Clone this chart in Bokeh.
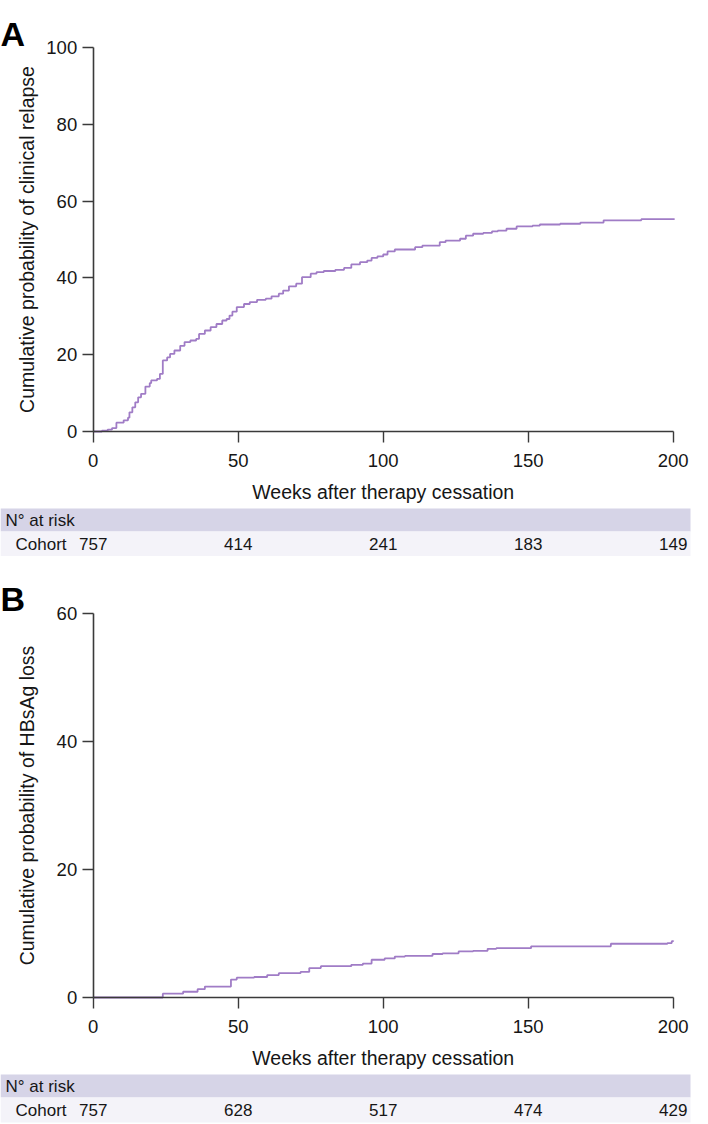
import math
from bokeh.plotting import figure
from bokeh.models import Range1d, FixedTicker, LinearAxis
from bokeh.layouts import column
from bokeh.embed import file_html
from bokeh.resources import INLINE
from bokeh.core.properties import value

# ---------------- data ----------------
week_ticks = [0, 50, 100, 150, 200]

relapse_weeks = [0, 3, 5, 6.5, 8, 10.5, 12, 12.5, 13.5, 14.5, 15.5, 16.5, 18, 19.5, 20,
                 22, 23, 24, 25.5, 26.5, 28, 30, 31.5, 33.5, 35.5, 36.5, 38.5, 40.5, 42.5,
                 44.5, 46, 47, 48, 49.5, 52, 54, 56.5, 59.5, 61.5, 64, 65.5, 67.5, 70, 72,
                 75, 77, 79.5, 83.5, 86.5, 89, 92, 94.5, 96, 98, 100, 101.5, 104, 111,
                 113.5, 119.5, 121.5, 126.5, 128.5, 131, 134.5, 137.5, 139.5, 142.5, 146,
                 151.5, 154, 161, 168, 176, 189, 200.5]
relapse_pct = [0, 0.2, 0.5, 0.9, 2.3, 2.9, 3.6, 5.0, 6.3, 7.6, 8.9, 9.8, 11.7, 12.6, 13.3,
               13.7, 15.0, 18.5, 19.3, 20.2, 21.1, 22.3, 23.3, 23.7, 24.1, 25.4, 26.3, 27.2,
               28.0, 28.9, 29.3, 30.2, 31.2, 32.4, 33.2, 33.7, 34.3, 34.6, 35.2, 35.9, 36.7,
               37.8, 38.5, 40.2, 41.1, 41.5, 41.8, 42.1, 42.6, 43.5, 44.1, 44.5, 45.2, 45.6,
               46.1, 46.9, 47.4, 48.0, 48.4, 49.3, 49.7, 50.2, 51.0, 51.5, 51.7, 52.1, 52.3,
               52.8, 53.4, 53.6, 53.9, 54.1, 54.4, 55.0, 55.3, 55.3]

hbsag_weeks = [0, 24, 31, 36, 38.5, 47.5, 49.5, 55.5, 60, 64, 71.5, 74.5, 78.5, 89, 93, 96,
               100.5, 104, 107.5, 117, 120.5, 126, 131, 136, 139, 151, 178.5, 198, 199.5,
               200]
hbsag_pct = [0, 0.6, 0.9, 1.3, 1.7, 2.8, 3.1, 3.2, 3.5, 3.8, 4.0, 4.6, 4.9, 5.1, 5.3, 5.9,
             6.1, 6.4, 6.5, 6.8, 6.9, 7.2, 7.3, 7.6, 7.7, 8.0, 8.4, 8.5, 8.8, 8.9]

relapse_yticks = [0, 20, 40, 60, 80, 100]
hbsag_yticks = [0, 20, 40, 60]

risk_times = [0, 50, 100, 150, 200]
risk_relapse = [757, 414, 241, 183, 149]
risk_hbsag = [757, 628, 517, 474, 429]

# ---------------- style / layout ----------------
FONT = "Liberation Sans"
LINE = "#a07cc6"
AXIS = "#3a3a3a"
TEXT = "#161616"
HEAD_BG = "#d6d4e7"
ROW_BG = "#f4f3f9"

W = 708
X0_PX = 92.7      # pixel of week 0
PXW = 2.9         # pixels per week


def xd(px):
    return (px - X0_PX) / PXW


def panel(letter, xs, ys, yticks, ymax, ylabel, height, zero_px, ppu, counts,
          letter_base, head_top, head_bot, row_bot):
    def yd(px):
        return (zero_px - px) / ppu

    p = figure(width=W, height=height,
               x_range=Range1d(xd(0), xd(W)), y_range=Range1d(yd(height), yd(0)),
               x_axis_type=None, y_axis_type=None, min_border=0,
               output_backend="svg", toolbar_location=None)
    p.outline_line_color = None
    p.grid.visible = False

    xaxis = LinearAxis(fixed_location=0, bounds=(0, 200),
                       ticker=FixedTicker(ticks=week_ticks))
    yaxis = LinearAxis(fixed_location=0, bounds=(0, ymax),
                       ticker=FixedTicker(ticks=yticks))
    for ax in (xaxis, yaxis):
        ax.axis_line_color = AXIS
        ax.axis_line_width = 1.6
        ax.major_tick_line_color = AXIS
        ax.major_tick_line_width = 1.4
        ax.major_tick_in = 0
        ax.major_tick_out = 11
        ax.minor_tick_line_color = None
        ax.major_label_text_font = FONT
        ax.major_label_text_font_size = "18.5px"
        ax.major_label_text_color = TEXT
    xaxis.major_label_standoff = 11
    yaxis.major_label_standoff = 5
    p.add_layout(xaxis, "below")
    p.add_layout(yaxis, "left")

    # risk table bands
    p.quad(left=[xd(0), xd(0)], right=[xd(690), xd(690)],
           top=[yd(head_top), yd(head_bot)], bottom=[yd(head_bot), yd(row_bot)],
           fill_color=[HEAD_BG, ROW_BG], line_color=None)

    # curve
    p.step(xs, ys, mode="after", line_color=LINE, line_width=1.8)

    # panel letter
    p.text(x=[xd(0)], y=[yd(letter_base)], text=[letter], text_font=value(FONT),
           text_font_size="34px", text_font_style="bold", text_color="#000000",
           text_align="left", text_baseline="alphabetic")

    # axis titles
    top_px = zero_px - ymax * ppu
    p.text(x=[xd(26)], y=[yd((top_px + zero_px) / 2)], text=[ylabel], angle=math.pi / 2,
           text_font=value(FONT), text_font_size="19.5px", text_color=TEXT,
           text_align="center", text_baseline="middle")
    p.text(x=[100], y=[yd(zero_px + 60)], text=["Weeks after therapy cessation"],
           text_font=value(FONT), text_font_size="19.5px", text_color=TEXT,
           text_align="center", text_baseline="middle")

    # risk table text
    head_mid = (head_top + head_bot) / 2
    row_mid = (head_bot + row_bot) / 2
    p.text(x=[xd(5)], y=[yd(head_mid)], text=["N° at risk"], text_font=value(FONT),
           text_font_size="17px", text_color=TEXT, text_align="left", text_baseline="middle")
    p.text(x=[xd(15)], y=[yd(row_mid)], text=["Cohort"], text_font=value(FONT),
           text_font_size="17px", text_color=TEXT, text_align="left", text_baseline="middle")
    p.text(x=risk_times, y=[yd(row_mid)] * len(risk_times), text=[str(c) for c in counts],
           text_font=value(FONT), text_font_size="17px", text_color=TEXT,
           text_align="center", text_baseline="middle")
    return p


pA = panel("A", relapse_weeks, relapse_pct, relapse_yticks, 100,
           "Cumulative probability of clinical relapse", 556, 431, 3.84, risk_relapse,
           33, 508, 531, 556)
pB = panel("B", hbsag_weeks, hbsag_pct, hbsag_yticks, 60,
           "Cumulative probability of HBsAg loss", 568, 441, 6.4, risk_hbsag,
           42, 518, 541, 566)

layout = column(pA, pB)
open("out.html", "w").write(file_html(layout, INLINE))
